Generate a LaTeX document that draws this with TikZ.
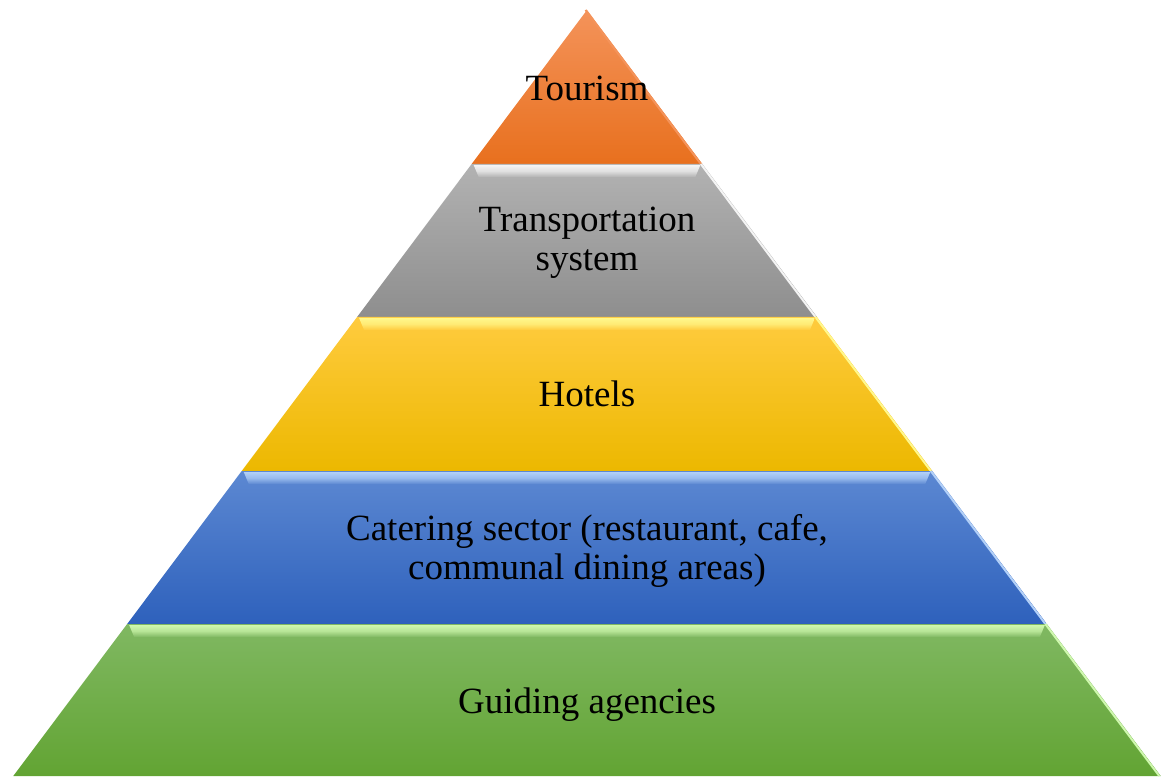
\documentclass[tikz,border=0pt]{standalone}
\usepackage{fontspec}
\setmainfont{Liberation Serif}
\usetikzlibrary{calc}
\definecolor{orTop}{HTML}{F4935A}
\definecolor{orBot}{HTML}{E8701E}
\definecolor{grTop}{HTML}{B2B2B2}
\definecolor{grBot}{HTML}{8E8E8E}
\definecolor{grHi}{HTML}{F4F4F4}
\definecolor{yeTop}{HTML}{FFCB3E}
\definecolor{yeBot}{HTML}{ECB800}
\definecolor{yeHi}{HTML}{FFF88C}
\definecolor{blTop}{HTML}{5C88D2}
\definecolor{blBot}{HTML}{2E61BC}
\definecolor{blHi}{HTML}{B2D0F8}
\definecolor{grnTop}{HTML}{80B862}
\definecolor{grnBot}{HTML}{62A433}
\definecolor{grnHi}{HTML}{CFF8AE}
\tikzset{layertext/.style={font=\fontsize{37}{39}\selectfont, align=center, anchor=base}}
\begin{document}
\begin{tikzpicture}[x=1pt, y=-1pt]
\useasboundingbox (0,0) rectangle (1166,776);
\coordinate (apex) at (587,10);
\coordinate (bl) at (13.3,776);
\coordinate (br) at (1160.7,776);
\foreach \yt/\yb/\ca/\cb/\ch in {10/164/orTop/orBot/orTop, 164/317/grTop/grBot/grHi, 317/471/yeTop/yeBot/yeHi, 471/624/blTop/blBot/blHi, 624/776/grnTop/grnBot/grnHi}{
  \pgfmathsetmacro\ft{(\yt-10)/766}
  \pgfmathsetmacro\fb{(\yb-10)/766}
  \path[top color=\ca, bottom color=\cb] ($(apex)!\ft!(bl)$) -- ($(apex)!\fb!(bl)$) -- ($(apex)!\fb!(br)$) -- ($(apex)!\ft!(br)$) -- cycle;
  \draw[\ch, line width=2pt] ($(apex)!\ft!(br)+(-1.5,0)$) -- ($(apex)!\fb!(br)+(-1.5,0)$);
  \ifdim\ft pt>0pt
    \path[top color=\ch, bottom color=\ca, middle color=\ch!70!\ca] ($(apex)!\ft!(bl)+(2,1)$) -- ($(apex)!\ft!(br)+(-2,1)$) -- ($(apex)!\ft!(br)+(-7,13)$) -- ($(apex)!\ft!(bl)+(7,13)$) -- cycle;
  \fi
}
\node[layertext] (tourism) at (587,100) {Tourism};
\node[layertext] (transport) at (587,270) {Transportation\\system};
\node[layertext] (hotels) at (587,406) {Hotels};
\node[layertext] (catering) at (587,579) {Catering sector (restaurant, cafe,\\communal dining areas)};
\node[layertext] (guiding) at (587,713) {Guiding agencies};
\end{tikzpicture}
\end{document}
